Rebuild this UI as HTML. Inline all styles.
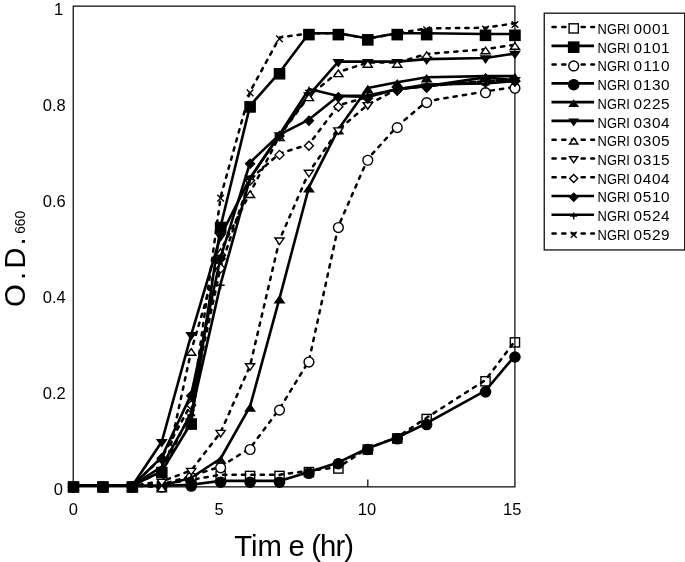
<!DOCTYPE html><html><head><meta charset="utf-8"><title>Growth curves</title><style>html,body{margin:0;padding:0;background:#fff}</style></head><body><svg width="685" height="562" viewBox="0 0 685 562" style="display:block" font-family="'Liberation Sans', sans-serif" fill="#000">
<rect width="685" height="562" fill="#fff"/>
<rect x="73.25" y="6.15" width="441.65" height="480.7" fill="none" stroke="#111" stroke-width="1.3"/>
<path d="M220.65 486.85V479.5" stroke="#111" stroke-width="1.3"/>
<path d="M367.80 486.85V479.5" stroke="#111" stroke-width="1.3"/>
<polyline points="73.50,485.70 102.93,485.70 132.36,485.70 161.79,484.26 191.22,479.93 220.65,474.65 250.08,474.65 279.51,474.65 308.94,470.80 338.37,467.20 367.80,448.22 397.23,437.17 426.66,417.71 485.52,379.99 514.95,341.07" fill="none" stroke="#000" stroke-width="2.5" stroke-linejoin="round" stroke-dasharray="3.3 6.1" stroke-linecap="round"/>
<rect x="68.90" y="482.40" width="9.20" height="9.20" fill="none" stroke="#000" stroke-width="1.4"/>
<rect x="98.33" y="482.40" width="9.20" height="9.20" fill="none" stroke="#000" stroke-width="1.4"/>
<rect x="127.76" y="482.40" width="9.20" height="9.20" fill="none" stroke="#000" stroke-width="1.4"/>
<rect x="186.62" y="476.63" width="9.20" height="9.20" fill="none" stroke="#000" stroke-width="1.4"/>
<rect x="216.05" y="471.35" width="9.20" height="9.20" fill="none" stroke="#000" stroke-width="1.4"/>
<rect x="245.48" y="471.35" width="9.20" height="9.20" fill="none" stroke="#000" stroke-width="1.4"/>
<rect x="274.91" y="471.35" width="9.20" height="9.20" fill="none" stroke="#000" stroke-width="1.4"/>
<rect x="304.34" y="467.50" width="9.20" height="9.20" fill="none" stroke="#000" stroke-width="1.4"/>
<rect x="333.77" y="463.90" width="9.20" height="9.20" fill="none" stroke="#000" stroke-width="1.4"/>
<rect x="363.20" y="444.92" width="9.20" height="9.20" fill="none" stroke="#000" stroke-width="1.4"/>
<rect x="392.63" y="433.87" width="9.20" height="9.20" fill="none" stroke="#000" stroke-width="1.4"/>
<rect x="422.06" y="414.41" width="9.20" height="9.20" fill="none" stroke="#000" stroke-width="1.4"/>
<rect x="480.92" y="376.69" width="9.20" height="9.20" fill="none" stroke="#000" stroke-width="1.4"/>
<rect x="510.35" y="337.77" width="9.20" height="9.20" fill="none" stroke="#000" stroke-width="1.4"/>
<polyline points="73.50,485.70 102.93,485.70 132.36,485.70 161.79,471.28 191.22,422.75 220.65,226.23 250.08,105.62 279.51,72.47 308.94,33.31 338.37,33.31 367.80,38.59 397.23,33.31 426.66,33.31 485.52,34.03 514.95,34.03" fill="none" stroke="#000" stroke-width="2.6" stroke-linejoin="round"/>
<rect x="68.40" y="481.90" width="10.20" height="10.20" fill="#000" stroke="#000" stroke-width="1.4"/>
<rect x="97.83" y="481.90" width="10.20" height="10.20" fill="#000" stroke="#000" stroke-width="1.4"/>
<rect x="127.26" y="481.90" width="10.20" height="10.20" fill="#000" stroke="#000" stroke-width="1.4"/>
<rect x="156.69" y="467.48" width="10.20" height="10.20" fill="#000" stroke="#000" stroke-width="1.4"/>
<rect x="186.12" y="418.95" width="10.20" height="10.20" fill="#000" stroke="#000" stroke-width="1.4"/>
<rect x="215.55" y="222.43" width="10.20" height="10.20" fill="#000" stroke="#000" stroke-width="1.4"/>
<rect x="244.98" y="101.82" width="10.20" height="10.20" fill="#000" stroke="#000" stroke-width="1.4"/>
<rect x="274.41" y="68.67" width="10.20" height="10.20" fill="#000" stroke="#000" stroke-width="1.4"/>
<rect x="303.84" y="29.51" width="10.20" height="10.20" fill="#000" stroke="#000" stroke-width="1.4"/>
<rect x="333.27" y="29.51" width="10.20" height="10.20" fill="#000" stroke="#000" stroke-width="1.4"/>
<rect x="362.70" y="34.79" width="10.20" height="10.20" fill="#000" stroke="#000" stroke-width="1.4"/>
<rect x="392.13" y="29.51" width="10.20" height="10.20" fill="#000" stroke="#000" stroke-width="1.4"/>
<rect x="421.56" y="29.51" width="10.20" height="10.20" fill="#000" stroke="#000" stroke-width="1.4"/>
<rect x="480.42" y="30.23" width="10.20" height="10.20" fill="#000" stroke="#000" stroke-width="1.4"/>
<rect x="509.85" y="30.23" width="10.20" height="10.20" fill="#000" stroke="#000" stroke-width="1.4"/>
<polyline points="73.50,485.70 102.93,485.70 132.36,485.70 161.79,484.26 191.22,476.09 220.65,466.48 250.08,448.22 279.51,408.82 308.94,360.77 338.37,226.23 367.80,158.96 397.23,126.29 426.66,101.30 485.52,91.40 514.95,86.89" fill="none" stroke="#000" stroke-width="2.5" stroke-linejoin="round" stroke-dasharray="3.3 6.1" stroke-linecap="round"/>
<circle cx="73.50" cy="487.00" r="4.90" fill="#fff" stroke="#000" stroke-width="1.4"/>
<circle cx="102.93" cy="487.00" r="4.90" fill="#fff" stroke="#000" stroke-width="1.4"/>
<circle cx="132.36" cy="487.00" r="4.90" fill="#fff" stroke="#000" stroke-width="1.4"/>
<circle cx="161.79" cy="485.56" r="4.90" fill="#fff" stroke="#000" stroke-width="1.4"/>
<circle cx="191.22" cy="477.39" r="4.90" fill="#fff" stroke="#000" stroke-width="1.4"/>
<circle cx="220.65" cy="467.78" r="4.90" fill="#fff" stroke="#000" stroke-width="1.4"/>
<circle cx="250.08" cy="449.52" r="4.90" fill="#fff" stroke="#000" stroke-width="1.4"/>
<circle cx="279.51" cy="410.12" r="4.90" fill="#fff" stroke="#000" stroke-width="1.4"/>
<circle cx="308.94" cy="362.07" r="4.90" fill="#fff" stroke="#000" stroke-width="1.4"/>
<circle cx="338.37" cy="227.53" r="4.90" fill="#fff" stroke="#000" stroke-width="1.4"/>
<circle cx="367.80" cy="160.26" r="4.90" fill="#fff" stroke="#000" stroke-width="1.4"/>
<circle cx="397.23" cy="127.59" r="4.90" fill="#fff" stroke="#000" stroke-width="1.4"/>
<circle cx="426.66" cy="102.60" r="4.90" fill="#fff" stroke="#000" stroke-width="1.4"/>
<circle cx="485.52" cy="92.70" r="4.90" fill="#fff" stroke="#000" stroke-width="1.4"/>
<circle cx="514.95" cy="88.19" r="4.90" fill="#fff" stroke="#000" stroke-width="1.4"/>
<polyline points="73.50,485.70 102.93,485.70 132.36,485.70 161.79,485.70 191.22,484.74 220.65,480.89 250.08,480.89 279.51,480.89 308.94,472.01 338.37,462.40 367.80,448.22 397.23,437.51 426.66,423.23 485.52,390.56 514.95,355.72" fill="none" stroke="#000" stroke-width="2.6" stroke-linejoin="round"/>
<circle cx="73.50" cy="487.00" r="5.10" fill="#000" stroke="#000" stroke-width="1.4"/>
<circle cx="102.93" cy="487.00" r="5.10" fill="#000" stroke="#000" stroke-width="1.4"/>
<circle cx="132.36" cy="487.00" r="5.10" fill="#000" stroke="#000" stroke-width="1.4"/>
<circle cx="161.79" cy="487.00" r="5.10" fill="#000" stroke="#000" stroke-width="1.4"/>
<circle cx="191.22" cy="486.04" r="5.10" fill="#000" stroke="#000" stroke-width="1.4"/>
<circle cx="220.65" cy="482.19" r="5.10" fill="#000" stroke="#000" stroke-width="1.4"/>
<circle cx="250.08" cy="482.19" r="5.10" fill="#000" stroke="#000" stroke-width="1.4"/>
<circle cx="279.51" cy="482.19" r="5.10" fill="#000" stroke="#000" stroke-width="1.4"/>
<circle cx="308.94" cy="473.31" r="5.10" fill="#000" stroke="#000" stroke-width="1.4"/>
<circle cx="338.37" cy="463.70" r="5.10" fill="#000" stroke="#000" stroke-width="1.4"/>
<circle cx="367.80" cy="449.52" r="5.10" fill="#000" stroke="#000" stroke-width="1.4"/>
<circle cx="397.23" cy="438.81" r="5.10" fill="#000" stroke="#000" stroke-width="1.4"/>
<circle cx="426.66" cy="424.53" r="5.10" fill="#000" stroke="#000" stroke-width="1.4"/>
<circle cx="485.52" cy="391.86" r="5.10" fill="#000" stroke="#000" stroke-width="1.4"/>
<circle cx="514.95" cy="357.02" r="5.10" fill="#000" stroke="#000" stroke-width="1.4"/>
<polyline points="73.50,485.70 102.93,485.70 132.36,485.70 161.79,485.70 191.22,477.72 220.65,458.50 250.08,406.42 279.51,298.31 308.94,187.21 338.37,129.17 367.80,88.09 397.23,82.22 426.66,77.27 485.52,76.12 514.95,76.12" fill="none" stroke="#000" stroke-width="2.6" stroke-linejoin="round"/>
<path d="M68.90 490.30L78.10 490.30L73.50 483.70Z" fill="#000" stroke="#000" stroke-width="1.4"/>
<path d="M98.33 490.30L107.53 490.30L102.93 483.70Z" fill="#000" stroke="#000" stroke-width="1.4"/>
<path d="M127.76 490.30L136.96 490.30L132.36 483.70Z" fill="#000" stroke="#000" stroke-width="1.4"/>
<path d="M157.19 490.30L166.39 490.30L161.79 483.70Z" fill="#000" stroke="#000" stroke-width="1.4"/>
<path d="M186.62 482.32L195.82 482.32L191.22 475.72Z" fill="#000" stroke="#000" stroke-width="1.4"/>
<path d="M216.05 463.10L225.25 463.10L220.65 456.50Z" fill="#000" stroke="#000" stroke-width="1.4"/>
<path d="M245.48 411.02L254.68 411.02L250.08 404.42Z" fill="#000" stroke="#000" stroke-width="1.4"/>
<path d="M274.91 302.91L284.11 302.91L279.51 296.31Z" fill="#000" stroke="#000" stroke-width="1.4"/>
<path d="M304.34 191.81L313.54 191.81L308.94 185.21Z" fill="#000" stroke="#000" stroke-width="1.4"/>
<path d="M333.77 133.77L342.97 133.77L338.37 127.17Z" fill="#000" stroke="#000" stroke-width="1.4"/>
<path d="M363.20 92.69L372.40 92.69L367.80 86.09Z" fill="#000" stroke="#000" stroke-width="1.4"/>
<path d="M392.63 86.82L401.83 86.82L397.23 80.22Z" fill="#000" stroke="#000" stroke-width="1.4"/>
<path d="M422.06 81.87L431.26 81.87L426.66 75.27Z" fill="#000" stroke="#000" stroke-width="1.4"/>
<path d="M480.92 80.72L490.12 80.72L485.52 74.12Z" fill="#000" stroke="#000" stroke-width="1.4"/>
<path d="M510.35 80.72L519.55 80.72L514.95 74.12Z" fill="#000" stroke="#000" stroke-width="1.4"/>
<polyline points="73.50,485.70 102.93,485.70 132.36,485.70 161.79,441.73 191.22,334.82 220.65,235.84 250.08,178.18 279.51,134.94 308.94,95.05 338.37,61.66 367.80,61.66 397.23,61.66 426.66,59.16 485.52,58.06 514.95,53.49" fill="none" stroke="#000" stroke-width="2.6" stroke-linejoin="round"/>
<path d="M68.90 483.70L78.10 483.70L73.50 490.30Z" fill="#000" stroke="#000" stroke-width="1.4"/>
<path d="M98.33 483.70L107.53 483.70L102.93 490.30Z" fill="#000" stroke="#000" stroke-width="1.4"/>
<path d="M127.76 483.70L136.96 483.70L132.36 490.30Z" fill="#000" stroke="#000" stroke-width="1.4"/>
<path d="M157.19 439.73L166.39 439.73L161.79 446.33Z" fill="#000" stroke="#000" stroke-width="1.4"/>
<path d="M186.62 332.82L195.82 332.82L191.22 339.42Z" fill="#000" stroke="#000" stroke-width="1.4"/>
<path d="M216.05 233.84L225.25 233.84L220.65 240.44Z" fill="#000" stroke="#000" stroke-width="1.4"/>
<path d="M245.48 176.18L254.68 176.18L250.08 182.78Z" fill="#000" stroke="#000" stroke-width="1.4"/>
<path d="M274.91 132.94L284.11 132.94L279.51 139.54Z" fill="#000" stroke="#000" stroke-width="1.4"/>
<path d="M304.34 93.05L313.54 93.05L308.94 99.65Z" fill="#000" stroke="#000" stroke-width="1.4"/>
<path d="M333.77 59.66L342.97 59.66L338.37 66.26Z" fill="#000" stroke="#000" stroke-width="1.4"/>
<path d="M363.20 59.66L372.40 59.66L367.80 66.26Z" fill="#000" stroke="#000" stroke-width="1.4"/>
<path d="M392.63 59.66L401.83 59.66L397.23 66.26Z" fill="#000" stroke="#000" stroke-width="1.4"/>
<path d="M422.06 57.16L431.26 57.16L426.66 63.76Z" fill="#000" stroke="#000" stroke-width="1.4"/>
<path d="M480.92 56.06L490.12 56.06L485.52 62.66Z" fill="#000" stroke="#000" stroke-width="1.4"/>
<path d="M510.35 51.49L519.55 51.49L514.95 58.09Z" fill="#000" stroke="#000" stroke-width="1.4"/>
<polyline points="73.50,485.70 102.93,485.70 132.36,485.70 161.79,487.14 191.22,350.68 220.65,250.74 250.08,192.88 279.51,135.90 308.94,96.01 338.37,71.99 367.80,62.62 397.23,62.62 426.66,53.87 485.52,49.17 514.95,44.70" fill="none" stroke="#000" stroke-width="2.5" stroke-linejoin="round" stroke-dasharray="3.3 6.1" stroke-linecap="round"/>
<path d="M68.90 490.30L78.10 490.30L73.50 483.70Z" fill="#fff" stroke="#000" stroke-width="1.4"/>
<path d="M98.33 490.30L107.53 490.30L102.93 483.70Z" fill="#fff" stroke="#000" stroke-width="1.4"/>
<path d="M127.76 490.30L136.96 490.30L132.36 483.70Z" fill="#fff" stroke="#000" stroke-width="1.4"/>
<path d="M157.19 491.74L166.39 491.74L161.79 485.14Z" fill="#fff" stroke="#000" stroke-width="1.4"/>
<path d="M186.62 355.28L195.82 355.28L191.22 348.68Z" fill="#fff" stroke="#000" stroke-width="1.4"/>
<path d="M216.05 255.34L225.25 255.34L220.65 248.74Z" fill="#fff" stroke="#000" stroke-width="1.4"/>
<path d="M245.48 197.48L254.68 197.48L250.08 190.88Z" fill="#fff" stroke="#000" stroke-width="1.4"/>
<path d="M274.91 140.50L284.11 140.50L279.51 133.90Z" fill="#fff" stroke="#000" stroke-width="1.4"/>
<path d="M304.34 100.61L313.54 100.61L308.94 94.01Z" fill="#fff" stroke="#000" stroke-width="1.4"/>
<path d="M333.77 76.59L342.97 76.59L338.37 69.99Z" fill="#fff" stroke="#000" stroke-width="1.4"/>
<path d="M363.20 67.22L372.40 67.22L367.80 60.62Z" fill="#fff" stroke="#000" stroke-width="1.4"/>
<path d="M392.63 67.22L401.83 67.22L397.23 60.62Z" fill="#fff" stroke="#000" stroke-width="1.4"/>
<path d="M422.06 58.47L431.26 58.47L426.66 51.87Z" fill="#fff" stroke="#000" stroke-width="1.4"/>
<path d="M480.92 53.77L490.12 53.77L485.52 47.17Z" fill="#fff" stroke="#000" stroke-width="1.4"/>
<path d="M510.35 49.30L519.55 49.30L514.95 42.70Z" fill="#fff" stroke="#000" stroke-width="1.4"/>
<polyline points="73.50,485.70 102.93,485.70 132.36,485.70 161.79,481.38 191.22,470.42 220.65,432.36 250.08,365.72 279.51,239.97 308.94,172.22 338.37,129.89 367.80,104.66 397.23,89.10 426.66,86.12 485.52,81.12 514.95,79.68" fill="none" stroke="#000" stroke-width="2.5" stroke-linejoin="round" stroke-dasharray="3.3 6.1" stroke-linecap="round"/>
<path d="M68.90 483.70L78.10 483.70L73.50 490.30Z" fill="#fff" stroke="#000" stroke-width="1.4"/>
<path d="M98.33 483.70L107.53 483.70L102.93 490.30Z" fill="#fff" stroke="#000" stroke-width="1.4"/>
<path d="M127.76 483.70L136.96 483.70L132.36 490.30Z" fill="#fff" stroke="#000" stroke-width="1.4"/>
<path d="M157.19 479.38L166.39 479.38L161.79 485.98Z" fill="#fff" stroke="#000" stroke-width="1.4"/>
<path d="M186.62 468.42L195.82 468.42L191.22 475.02Z" fill="#fff" stroke="#000" stroke-width="1.4"/>
<path d="M216.05 430.36L225.25 430.36L220.65 436.96Z" fill="#fff" stroke="#000" stroke-width="1.4"/>
<path d="M245.48 363.72L254.68 363.72L250.08 370.32Z" fill="#fff" stroke="#000" stroke-width="1.4"/>
<path d="M274.91 237.97L284.11 237.97L279.51 244.57Z" fill="#fff" stroke="#000" stroke-width="1.4"/>
<path d="M304.34 170.22L313.54 170.22L308.94 176.82Z" fill="#fff" stroke="#000" stroke-width="1.4"/>
<path d="M333.77 127.89L342.97 127.89L338.37 134.49Z" fill="#fff" stroke="#000" stroke-width="1.4"/>
<path d="M363.20 102.66L372.40 102.66L367.80 109.26Z" fill="#fff" stroke="#000" stroke-width="1.4"/>
<path d="M392.63 87.10L401.83 87.10L397.23 93.70Z" fill="#fff" stroke="#000" stroke-width="1.4"/>
<path d="M422.06 84.12L431.26 84.12L426.66 90.72Z" fill="#fff" stroke="#000" stroke-width="1.4"/>
<path d="M480.92 79.12L490.12 79.12L485.52 85.72Z" fill="#fff" stroke="#000" stroke-width="1.4"/>
<path d="M510.35 77.68L519.55 77.68L514.95 84.28Z" fill="#fff" stroke="#000" stroke-width="1.4"/>
<polyline points="73.50,485.70 102.93,485.70 132.36,485.70 161.79,457.83 191.22,404.01 220.65,267.07 250.08,179.14 279.51,153.58 308.94,144.35 338.37,105.34 367.80,96.98 397.23,89.10 426.66,86.12 485.52,81.12 514.95,79.68" fill="none" stroke="#000" stroke-width="2.5" stroke-linejoin="round" stroke-dasharray="3.3 6.1" stroke-linecap="round"/>
<path d="M69.00 487.00L73.50 482.50L78.00 487.00L73.50 491.50Z" fill="#fff" stroke="#000" stroke-width="1.4"/>
<path d="M98.43 487.00L102.93 482.50L107.43 487.00L102.93 491.50Z" fill="#fff" stroke="#000" stroke-width="1.4"/>
<path d="M127.86 487.00L132.36 482.50L136.86 487.00L132.36 491.50Z" fill="#fff" stroke="#000" stroke-width="1.4"/>
<path d="M157.29 459.13L161.79 454.63L166.29 459.13L161.79 463.63Z" fill="#fff" stroke="#000" stroke-width="1.4"/>
<path d="M186.72 405.31L191.22 400.81L195.72 405.31L191.22 409.81Z" fill="#fff" stroke="#000" stroke-width="1.4"/>
<path d="M216.15 268.37L220.65 263.87L225.15 268.37L220.65 272.87Z" fill="#fff" stroke="#000" stroke-width="1.4"/>
<path d="M245.58 180.44L250.08 175.94L254.58 180.44L250.08 184.94Z" fill="#fff" stroke="#000" stroke-width="1.4"/>
<path d="M275.01 154.88L279.51 150.38L284.01 154.88L279.51 159.38Z" fill="#fff" stroke="#000" stroke-width="1.4"/>
<path d="M304.44 145.65L308.94 141.15L313.44 145.65L308.94 150.15Z" fill="#fff" stroke="#000" stroke-width="1.4"/>
<path d="M333.87 106.64L338.37 102.14L342.87 106.64L338.37 111.14Z" fill="#fff" stroke="#000" stroke-width="1.4"/>
<path d="M363.30 98.28L367.80 93.78L372.30 98.28L367.80 102.78Z" fill="#fff" stroke="#000" stroke-width="1.4"/>
<path d="M392.73 90.40L397.23 85.90L401.73 90.40L397.23 94.90Z" fill="#fff" stroke="#000" stroke-width="1.4"/>
<path d="M422.16 87.42L426.66 82.92L431.16 87.42L426.66 91.92Z" fill="#fff" stroke="#000" stroke-width="1.4"/>
<path d="M481.02 82.42L485.52 77.92L490.02 82.42L485.52 86.92Z" fill="#fff" stroke="#000" stroke-width="1.4"/>
<path d="M510.45 80.98L514.95 76.48L519.45 80.98L514.95 85.48Z" fill="#fff" stroke="#000" stroke-width="1.4"/>
<polyline points="73.50,485.70 102.93,485.70 132.36,485.70 161.79,457.06 191.22,394.40 220.65,257.46 250.08,162.52 279.51,134.60 308.94,119.56 338.37,95.92 367.80,96.98 397.23,89.10 426.66,86.12 485.52,77.37 514.95,80.16" fill="none" stroke="#000" stroke-width="2.6" stroke-linejoin="round"/>
<path d="M69.00 487.00L73.50 482.50L78.00 487.00L73.50 491.50Z" fill="#000" stroke="#000" stroke-width="1.4"/>
<path d="M98.43 487.00L102.93 482.50L107.43 487.00L102.93 491.50Z" fill="#000" stroke="#000" stroke-width="1.4"/>
<path d="M127.86 487.00L132.36 482.50L136.86 487.00L132.36 491.50Z" fill="#000" stroke="#000" stroke-width="1.4"/>
<path d="M157.29 458.36L161.79 453.86L166.29 458.36L161.79 462.86Z" fill="#000" stroke="#000" stroke-width="1.4"/>
<path d="M186.72 395.70L191.22 391.20L195.72 395.70L191.22 400.20Z" fill="#000" stroke="#000" stroke-width="1.4"/>
<path d="M216.15 258.76L220.65 254.26L225.15 258.76L220.65 263.26Z" fill="#000" stroke="#000" stroke-width="1.4"/>
<path d="M245.58 163.82L250.08 159.32L254.58 163.82L250.08 168.32Z" fill="#000" stroke="#000" stroke-width="1.4"/>
<path d="M275.01 135.90L279.51 131.40L284.01 135.90L279.51 140.40Z" fill="#000" stroke="#000" stroke-width="1.4"/>
<path d="M304.44 120.86L308.94 116.36L313.44 120.86L308.94 125.36Z" fill="#000" stroke="#000" stroke-width="1.4"/>
<path d="M333.87 97.22L338.37 92.72L342.87 97.22L338.37 101.72Z" fill="#000" stroke="#000" stroke-width="1.4"/>
<path d="M363.30 98.28L367.80 93.78L372.30 98.28L367.80 102.78Z" fill="#000" stroke="#000" stroke-width="1.4"/>
<path d="M392.73 90.40L397.23 85.90L401.73 90.40L397.23 94.90Z" fill="#000" stroke="#000" stroke-width="1.4"/>
<path d="M422.16 87.42L426.66 82.92L431.16 87.42L426.66 91.92Z" fill="#000" stroke="#000" stroke-width="1.4"/>
<path d="M481.02 78.67L485.52 74.17L490.02 78.67L485.52 83.17Z" fill="#000" stroke="#000" stroke-width="1.4"/>
<path d="M510.45 81.46L514.95 76.96L519.45 81.46L514.95 85.96Z" fill="#000" stroke="#000" stroke-width="1.4"/>
<polyline points="73.50,485.70 102.93,485.70 132.36,485.70 161.79,466.48 191.22,413.62 220.65,283.89 250.08,178.18 279.51,134.60 308.94,89.10 338.37,96.01 367.80,95.53 397.23,89.29 426.66,84.48 485.52,83.52 514.95,81.12" fill="none" stroke="#000" stroke-width="2.6" stroke-linejoin="round"/>
<path d="M69.50 487.00H77.50M73.50 483.00V491.00" fill="none" stroke="#000" stroke-width="1.4"/>
<path d="M98.93 487.00H106.93M102.93 483.00V491.00" fill="none" stroke="#000" stroke-width="1.4"/>
<path d="M128.36 487.00H136.36M132.36 483.00V491.00" fill="none" stroke="#000" stroke-width="1.4"/>
<path d="M157.79 467.78H165.79M161.79 463.78V471.78" fill="none" stroke="#000" stroke-width="1.4"/>
<path d="M187.22 414.93H195.22M191.22 410.93V418.93" fill="none" stroke="#000" stroke-width="1.4"/>
<path d="M216.65 285.19H224.65M220.65 281.19V289.19" fill="none" stroke="#000" stroke-width="1.4"/>
<path d="M246.08 179.48H254.08M250.08 175.48V183.48" fill="none" stroke="#000" stroke-width="1.4"/>
<path d="M275.51 135.90H283.51M279.51 131.90V139.90" fill="none" stroke="#000" stroke-width="1.4"/>
<path d="M304.94 90.40H312.94M308.94 86.40V94.40" fill="none" stroke="#000" stroke-width="1.4"/>
<path d="M334.37 97.31H342.37M338.37 93.31V101.31" fill="none" stroke="#000" stroke-width="1.4"/>
<path d="M363.80 96.83H371.80M367.80 92.83V100.83" fill="none" stroke="#000" stroke-width="1.4"/>
<path d="M393.23 90.59H401.23M397.23 86.59V94.59" fill="none" stroke="#000" stroke-width="1.4"/>
<path d="M422.66 85.78H430.66M426.66 81.78V89.78" fill="none" stroke="#000" stroke-width="1.4"/>
<path d="M481.52 84.82H489.52M485.52 80.82V88.82" fill="none" stroke="#000" stroke-width="1.4"/>
<path d="M510.95 82.42H518.95M514.95 78.42V86.42" fill="none" stroke="#000" stroke-width="1.4"/>
<polyline points="73.50,485.70 102.93,485.70 132.36,485.70 161.79,471.28 191.22,411.70 220.65,196.82 250.08,91.59 279.51,37.59 308.94,33.31 338.37,33.31 367.80,38.59 397.23,33.31 426.66,28.41 485.52,27.78 514.95,23.22" fill="none" stroke="#000" stroke-width="2.5" stroke-linejoin="round" stroke-dasharray="3.3 6.1" stroke-linecap="round"/>
<path d="M70.20 483.70L76.80 490.30M70.20 490.30L76.80 483.70" fill="none" stroke="#000" stroke-width="1.4"/>
<path d="M99.63 483.70L106.23 490.30M99.63 490.30L106.23 483.70" fill="none" stroke="#000" stroke-width="1.4"/>
<path d="M129.06 483.70L135.66 490.30M129.06 490.30L135.66 483.70" fill="none" stroke="#000" stroke-width="1.4"/>
<path d="M158.49 469.28L165.09 475.88M158.49 475.88L165.09 469.28" fill="none" stroke="#000" stroke-width="1.4"/>
<path d="M187.92 409.70L194.52 416.30M187.92 416.30L194.52 409.70" fill="none" stroke="#000" stroke-width="1.4"/>
<path d="M217.35 194.82L223.95 201.42M217.35 201.42L223.95 194.82" fill="none" stroke="#000" stroke-width="1.4"/>
<path d="M246.78 89.59L253.38 96.19M246.78 96.19L253.38 89.59" fill="none" stroke="#000" stroke-width="1.4"/>
<path d="M276.21 35.59L282.81 42.19M276.21 42.19L282.81 35.59" fill="none" stroke="#000" stroke-width="1.4"/>
<path d="M305.64 31.31L312.24 37.91M305.64 37.91L312.24 31.31" fill="none" stroke="#000" stroke-width="1.4"/>
<path d="M335.07 31.31L341.67 37.91M335.07 37.91L341.67 31.31" fill="none" stroke="#000" stroke-width="1.4"/>
<path d="M364.50 36.59L371.10 43.19M364.50 43.19L371.10 36.59" fill="none" stroke="#000" stroke-width="1.4"/>
<path d="M393.93 31.31L400.53 37.91M393.93 37.91L400.53 31.31" fill="none" stroke="#000" stroke-width="1.4"/>
<path d="M423.36 26.41L429.96 33.01M423.36 33.01L429.96 26.41" fill="none" stroke="#000" stroke-width="1.4"/>
<path d="M482.22 25.78L488.82 32.38M482.22 32.38L488.82 25.78" fill="none" stroke="#000" stroke-width="1.4"/>
<path d="M511.65 21.22L518.25 27.82M511.65 27.82L518.25 21.22" fill="none" stroke="#000" stroke-width="1.4"/>
<text x="62.9" y="495.10" font-size="16.5" text-anchor="end">0</text>
<text x="65.8" y="399.00" font-size="16.5" text-anchor="end">0.2</text>
<text x="65.8" y="302.90" font-size="16.5" text-anchor="end">0.4</text>
<text x="65.8" y="206.80" font-size="16.5" text-anchor="end">0.6</text>
<text x="65.8" y="110.70" font-size="16.5" text-anchor="end">0.8</text>
<text x="63.2" y="14.60" font-size="16.5" text-anchor="end">1</text>
<text x="73.4" y="515.1" font-size="16.5" text-anchor="middle">0</text>
<text x="219.2" y="515.1" font-size="16.5" text-anchor="middle">5</text>
<text x="366.9" y="515.1" font-size="16.5" text-anchor="middle">10</text>
<text x="512.2" y="515.1" font-size="16.5" text-anchor="middle">15</text>
<text x="234.2" y="555.5" font-size="29.3">Tim</text>
<text x="288.5" y="555.5" font-size="29.3" textLength="65.5" lengthAdjust="spacing">e (hr)</text>
<text transform="translate(24.5 307) rotate(-90)" font-size="29.3">O</text>
<text transform="translate(24.5 280) rotate(-90)" font-size="29.3">.</text>
<text transform="translate(24.5 268.8) rotate(-90)" font-size="29.3">D</text>
<text transform="translate(24.5 245.5) rotate(-90)" font-size="29.3">.</text>
<text transform="translate(24.7 233.8) rotate(-90) scale(1 1.12)" font-size="13.8">660</text>
<rect x="544.25" y="13.2" width="140.45" height="236.75" fill="#fff" stroke="#111" stroke-width="1.3"/>
<path d="M552.5 27.10H594" stroke-dasharray="3.2 6.5" stroke-linecap="round" stroke="#000" stroke-width="2.5"/>
<rect x="569.10" y="23.80" width="9.20" height="9.20" fill="#fff" stroke="#000" stroke-width="1.4"/>
<text x="597.6" y="33.90" font-size="15.4" textLength="32.3" lengthAdjust="spacingAndGlyphs">NGRI</text>
<text x="633.6" y="33.90" font-size="15.4" textLength="36" lengthAdjust="spacing">0001</text>
<path d="M551.5 45.86H594" stroke="#000" stroke-width="2.6"/>
<rect x="568.60" y="42.06" width="10.20" height="10.20" fill="#000" stroke="#000" stroke-width="1.4"/>
<text x="597.6" y="52.62" font-size="15.4" textLength="32.3" lengthAdjust="spacingAndGlyphs">NGRI</text>
<text x="633.6" y="52.62" font-size="15.4" textLength="36" lengthAdjust="spacing">0101</text>
<path d="M552.5 64.62H594" stroke-dasharray="3.2 6.5" stroke-linecap="round" stroke="#000" stroke-width="2.5"/>
<circle cx="573.70" cy="65.92" r="4.90" fill="#fff" stroke="#000" stroke-width="1.4"/>
<text x="597.6" y="71.34" font-size="15.4" textLength="32.3" lengthAdjust="spacingAndGlyphs">NGRI</text>
<text x="633.6" y="71.34" font-size="15.4" textLength="36" lengthAdjust="spacing">0110</text>
<path d="M551.5 83.38H594" stroke="#000" stroke-width="2.6"/>
<circle cx="573.70" cy="84.68" r="5.10" fill="#000" stroke="#000" stroke-width="1.4"/>
<text x="597.6" y="90.06" font-size="15.4" textLength="32.3" lengthAdjust="spacingAndGlyphs">NGRI</text>
<text x="633.6" y="90.06" font-size="15.4" textLength="36" lengthAdjust="spacing">0130</text>
<path d="M551.5 102.14H594" stroke="#000" stroke-width="2.6"/>
<path d="M569.56 106.41L577.84 106.41L573.70 100.47Z" fill="#000" stroke="#000" stroke-width="1.4"/>
<text x="597.6" y="108.78" font-size="15.4" textLength="32.3" lengthAdjust="spacingAndGlyphs">NGRI</text>
<text x="633.6" y="108.78" font-size="15.4" textLength="36" lengthAdjust="spacing">0225</text>
<path d="M551.5 120.90H594" stroke="#000" stroke-width="2.6"/>
<path d="M569.56 119.23L577.84 119.23L573.70 125.17Z" fill="#000" stroke="#000" stroke-width="1.4"/>
<text x="597.6" y="127.50" font-size="15.4" textLength="32.3" lengthAdjust="spacingAndGlyphs">NGRI</text>
<text x="633.6" y="127.50" font-size="15.4" textLength="36" lengthAdjust="spacing">0304</text>
<path d="M552.5 139.66H594" stroke-dasharray="3.2 6.5" stroke-linecap="round" stroke="#000" stroke-width="2.5"/>
<path d="M569.56 143.93L577.84 143.93L573.70 137.99Z" fill="#fff" stroke="#000" stroke-width="1.4"/>
<text x="597.6" y="146.22" font-size="15.4" textLength="32.3" lengthAdjust="spacingAndGlyphs">NGRI</text>
<text x="633.6" y="146.22" font-size="15.4" textLength="36" lengthAdjust="spacing">0305</text>
<path d="M552.5 158.42H594" stroke-dasharray="3.2 6.5" stroke-linecap="round" stroke="#000" stroke-width="2.5"/>
<path d="M569.56 156.75L577.84 156.75L573.70 162.69Z" fill="#fff" stroke="#000" stroke-width="1.4"/>
<text x="597.6" y="164.94" font-size="15.4" textLength="32.3" lengthAdjust="spacingAndGlyphs">NGRI</text>
<text x="633.6" y="164.94" font-size="15.4" textLength="36" lengthAdjust="spacing">0315</text>
<path d="M552.5 177.18H594" stroke-dasharray="3.2 6.5" stroke-linecap="round" stroke="#000" stroke-width="2.5"/>
<path d="M569.65 178.48L573.70 174.43L577.75 178.48L573.70 182.53Z" fill="#fff" stroke="#000" stroke-width="1.4"/>
<text x="597.6" y="183.66" font-size="15.4" textLength="32.3" lengthAdjust="spacingAndGlyphs">NGRI</text>
<text x="633.6" y="183.66" font-size="15.4" textLength="36" lengthAdjust="spacing">0404</text>
<path d="M551.5 195.94H594" stroke="#000" stroke-width="2.6"/>
<path d="M569.65 197.24L573.70 193.19L577.75 197.24L573.70 201.29Z" fill="#000" stroke="#000" stroke-width="1.4"/>
<text x="597.6" y="202.38" font-size="15.4" textLength="32.3" lengthAdjust="spacingAndGlyphs">NGRI</text>
<text x="633.6" y="202.38" font-size="15.4" textLength="36" lengthAdjust="spacing">0510</text>
<path d="M551.5 214.70H594" stroke="#000" stroke-width="2.6"/>
<path d="M570.10 216.00H577.30M573.70 212.40V219.60" fill="none" stroke="#000" stroke-width="1.4"/>
<text x="597.6" y="221.10" font-size="15.4" textLength="32.3" lengthAdjust="spacingAndGlyphs">NGRI</text>
<text x="633.6" y="221.10" font-size="15.4" textLength="36" lengthAdjust="spacing">0524</text>
<path d="M552.5 233.46H594" stroke-dasharray="3.2 6.5" stroke-linecap="round" stroke="#000" stroke-width="2.5"/>
<path d="M570.73 231.79L576.67 237.73M570.73 237.73L576.67 231.79" fill="none" stroke="#000" stroke-width="1.4"/>
<text x="597.6" y="239.82" font-size="15.4" textLength="32.3" lengthAdjust="spacingAndGlyphs">NGRI</text>
<text x="633.6" y="239.82" font-size="15.4" textLength="36" lengthAdjust="spacing">0529</text>
</svg></body></html>
